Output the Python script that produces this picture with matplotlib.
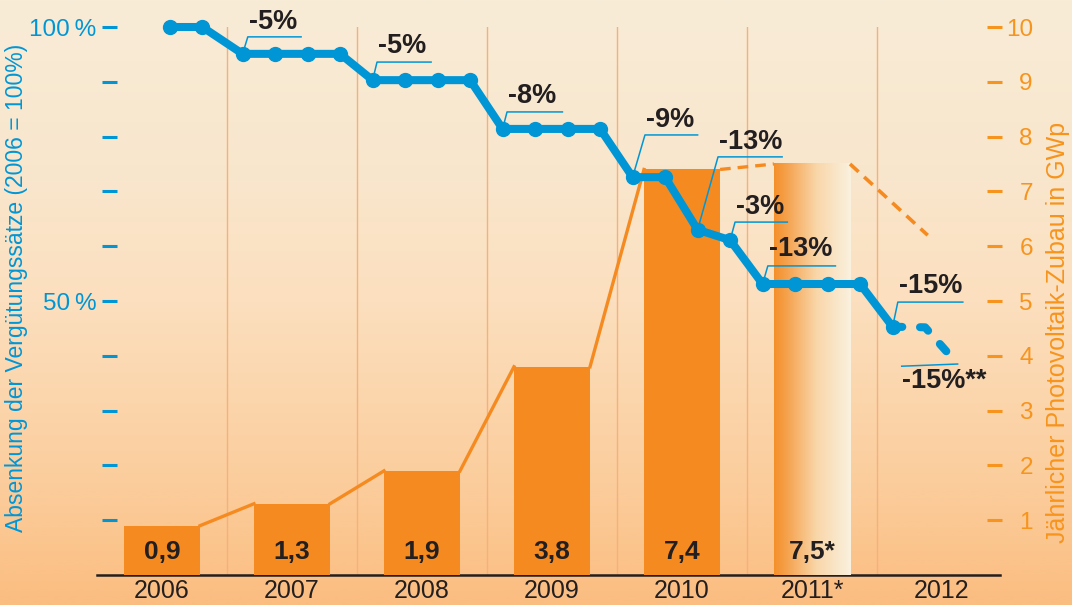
import numpy as np
import matplotlib
matplotlib.use('Agg')
import matplotlib.pyplot as plt
from matplotlib.colors import LinearSegmentedColormap

plt.rcParams['font.family'] = ['Liberation Sans', 'DejaVu Sans']

# --- data ------------------------------------------------------------------
years = ['2006', '2007', '2008', '2009', '2010', '2011*', '2012']
bar_values = [0.9, 1.3, 1.9, 3.8, 7.4, 7.5]
bar_labels = ['0,9', '1,3', '1,9', '3,8', '7,4', '7,5*']
forecast_end = (5.89, 6.2)        # end of the dashed orange forecast line

# feed-in tariff level (2006 = 100 %), roughly quarterly
rate_x = [0.06, 0.31,
          0.62, 0.87, 1.12, 1.37,
          1.62, 1.87, 2.12, 2.37,
          2.62, 2.87, 3.12, 3.37,
          3.62, 3.87, 4.12, 4.37,
          4.62, 4.87, 5.12, 5.37,
          5.62]
rate_y = [100, 100,
          95.1, 95.1, 95.1, 95.1,
          90.3, 90.3, 90.3, 90.3,
          81.4, 81.4, 81.4, 81.4,
          72.6, 72.6, 63.0, 61.1,
          53.1, 53.1, 53.1, 53.1,
          45.3]
rate_fc_x = [5.62, 5.87, 6.12]
rate_fc_y = [45.3, 45.2, 38.5]

# cut labels: text, index of point, leader corner (x, y), line end x, text y
cut_labels = [
    ('-5%', 2, 0.66, 98.2, 1.07, 101.0),
    ('-5%', 6, 1.654, 93.6, 2.07, 96.5),
    ('-8%', 10, 2.654, 84.5, 3.08, 87.4),
    ('-9%', 14, 3.715, 80.3, 4.12, 83.0),
    ('-13%', 16, 4.277, 76.3, 4.77, 79.0),
    ('-3%', 17, 4.408, 64.4, 4.81, 67.2),
    ('-13%', 18, 4.66, 56.4, 5.18, 59.4),
    ('-15%', 22, 5.66, 49.8, 6.16, 52.8),
]
last_label = ('-15%**', 5.69, 38.1, 35.4)

blue = '#0096d6'
orange = '#f58b20'
orange_txt = '#f7941d'
dark = '#231f20'
bar_w = 0.585

fig = plt.figure(figsize=(10.72, 6.05), dpi=100)

# background gradient
bg = fig.add_axes([0, 0, 1, 1], zorder=-10)
bg_cmap = LinearSegmentedColormap.from_list(
    'bg', [(0, '#f8ecd7'), (0.3, '#f9e6cc'), (0.5, '#fcdfbe'),
           (0.8, '#fbcd9c'), (1.0, '#fbbd80')])
bg.imshow(np.linspace(0, 1, 256).reshape(-1, 1), cmap=bg_cmap,
          aspect='auto', extent=[0, 1, 0, 1])
bg.axis('off')

ax = fig.add_axes([97 / 1072, 30 / 605, 903 / 1072, 548 / 605])
ax.set_facecolor('none')
ax2 = ax.twinx()
ax.set_xlim(-0.5, 6.446)
ax.set_ylim(0, 100)
ax2.set_ylim(0, 10)

# column separators
for xv in np.arange(0.5, 6, 1):
    ax.plot([xv, xv], [0, 100], color='#f7b07a', lw=1, zorder=0)

# bars (volume, right axis)
xs = np.arange(len(bar_values))
ax2.bar(xs[:5], bar_values[:5], width=bar_w, color=orange, zorder=2)
fade = LinearSegmentedColormap.from_list(
    'fade', [(0, '#f4902a'), (0.15, '#f5a04a'), (0.55, '#f9d6a8'), (1, '#faf1df')])
ax2.imshow(np.linspace(0, 1, 128).reshape(1, -1), cmap=fade, aspect='auto',
           extent=[5 - bar_w / 2, 5 + bar_w / 2, 0, bar_values[5]], zorder=2)
ax2.set_xlim(-0.5, 6.446)
for x, lab in zip(xs, bar_labels):
    ax2.text(x, 0.42, lab, ha='center', va='center', fontsize=19,
             fontweight='bold', color=dark, zorder=5)

# orange connector line between bar tops
for i in range(len(bar_values) - 1):
    ls = '-' if i < 4 else (0, (3.2, 2.1))
    ax2.plot([i + bar_w / 2, i + 1 - bar_w / 2], [bar_values[i], bar_values[i + 1]],
             color=orange, lw=2.4, ls=ls, zorder=3)
ax2.plot([5 + bar_w / 2, forecast_end[0]], [bar_values[5], forecast_end[1]],
         color=orange, lw=2.6, ls=(0, (3.2, 2.1)), zorder=3)

# tariff line (left axis) - drawn on ax2 in scaled units so it stays on top
scale = 0.1
for text, idx, cx, cy, ex, ty in cut_labels:
    px, py = rate_x[idx], rate_y[idx]
    ax2.plot([px, cx, ex], [py * scale, cy * scale, cy * scale],
             color=blue, lw=1.1, zorder=4)
    ax2.text(cx + 0.01, ty * scale, text, ha='left', va='center', fontsize=19.5,
             fontweight='bold', color=dark, zorder=6, clip_on=False)
t, lx, ly, ty = last_label
ax2.plot([lx, rate_fc_x[-1]], [ly * scale, rate_fc_y[-1] * scale],
         color=blue, lw=1.1, zorder=4)
ax2.text(lx, ty * scale, t, ha='left', va='center', fontsize=19.5,
         fontweight='bold', color=dark, zorder=6)

ax2.plot(rate_x, np.array(rate_y) * scale, color=blue, lw=5.8, marker='o',
         ms=10, zorder=7, solid_joinstyle='round', clip_on=False)
ax2.plot(rate_fc_x, np.array(rate_fc_y) * scale, color=blue, lw=5.8,
         ls=(0, (1.2, 2.2)), dash_capstyle='round', zorder=7)

# axes styling
for a in (ax, ax2):
    for s in ('top', 'left', 'right'):
        a.spines[s].set_visible(False)
ax2.spines['bottom'].set_visible(False)
ax.spines['bottom'].set_color(dark)
ax.spines['bottom'].set_linewidth(1.8)
ax.set_xticks(xs.tolist() + [6])
ax.set_xticklabels(years, fontsize=18, color=dark)
ax.tick_params(axis='x', length=0, pad=3)

ax.spines['left'].set_position(('outward', -3.6))
ax.set_yticks(np.arange(10, 101, 10))
ax.set_yticklabels(['' if v not in (50, 100) else f'{v}\u2009%' for v in range(10, 101, 10)],
                   fontsize=17.5, color=blue)
ax.tick_params(axis='y', direction='in', length=11, width=2.2, color=blue, pad=4)

ax2.spines['right'].set_position(('outward', -9.4))
ax2.set_yticks(range(1, 11))
ax2.set_yticklabels([str(v) for v in range(1, 11)], fontsize=17.5, color=orange_txt)
ax2.tick_params(axis='y', direction='out', length=11, width=2.2, color=orange_txt, pad=22)
for lab in ax2.get_yticklabels():
    lab.set_ha('right')

fig.text(17 / 1072, 1 - 288 / 605, 'Absenkung der Vergütungssätze (2006 = 100%)',
         rotation=90, ha='center', va='center', fontsize=16.5, color=blue)
fig.text(1058 / 1072, 1 - 332 / 605, 'Jährlicher Photovoltaik-Zubau in GWp',
         rotation=90, ha='center', va='center', fontsize=18, color=orange_txt)

fig.savefig('out.png', dpi=100)
